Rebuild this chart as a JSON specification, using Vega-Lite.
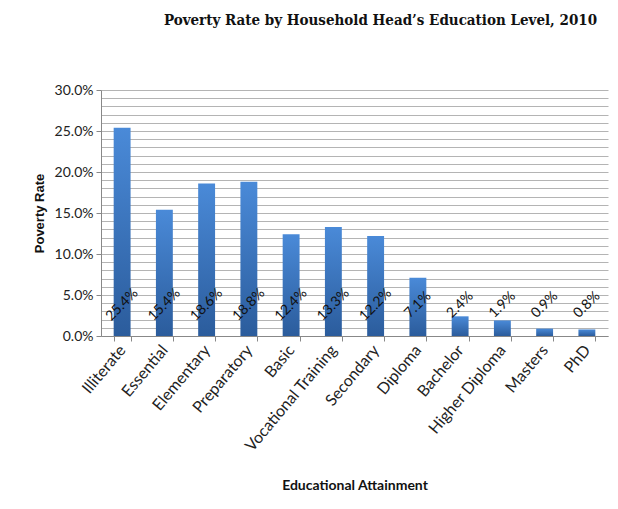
{
  "$schema": "https://vega.github.io/schema/vega-lite/v6.json",
  "width": 507,
  "height": 246,
  "autosize": "none",
  "padding": {"left": 101, "top": 90, "right": 10, "bottom": 173},
  "background": "white",
  "title": {
    "text": "Poverty Rate by Household Head’s Education Level, 2010",
    "font": "DejaVu Serif Condensed",
    "fontSize": 15,
    "fontWeight": "bold",
    "color": "#111111",
    "anchor": "middle",
    "dx": 26,
    "offset": 55
  },
  "data": {
    "values": [
      {"level": "Illiterate", "rate": 0.254},
      {"level": "Essential", "rate": 0.154},
      {"level": "Elementary", "rate": 0.186},
      {"level": "Preparatory", "rate": 0.188},
      {"level": "Basic", "rate": 0.124},
      {"level": "Vocational Training", "rate": 0.133},
      {"level": "Secondary", "rate": 0.122},
      {"level": "Diploma", "rate": 0.071},
      {"level": "Bachelor", "rate": 0.024},
      {"level": "Higher Diploma", "rate": 0.019},
      {"level": "Masters", "rate": 0.009},
      {"level": "PhD", "rate": 0.008}
    ]
  },
  "encoding": {
    "x": {
      "field": "level",
      "type": "nominal",
      "sort": null,
      "scale": {"paddingInner": 0.6, "paddingOuter": 0.3},
      "axis": {
        "title": "Educational Attainment",
        "titleFont": "Lato",
        "titleFontSize": 14,
        "titleFontWeight": "bold",
        "titleColor": "#111111",
        "titlePadding": 24,
        "labelAngle": -50,
        "labelAlign": "right",
        "labelBaseline": "middle",
        "labelFont": "Lato",
        "labelFontSize": 16,
        "labelColor": "#222222",
        "labelPadding": 6,
        "labelOverlap": false,
        "tickBand": "extent",
        "ticks": true,
        "tickSize": 5,
        "tickColor": "#888888",
        "domainColor": "#888888",
        "grid": false
      }
    }
  },
  "layer": [
    {
      "mark": {
        "type": "bar",
        "color": {
          "gradient": "linear",
          "x1": 0, "y1": 0, "x2": 0, "y2": 1,
          "stops": [
            {"offset": 0, "color": "#4a8ad8"},
            {"offset": 1, "color": "#2b5c9c"}
          ]
        }
      },
      "encoding": {
        "y": {
          "field": "rate",
          "type": "quantitative",
          "scale": {"domain": [0, 0.3], "nice": false},
          "axis": {
            "title": "Poverty Rate",
            "titleFont": "Liberation Sans",
            "titleFontSize": 13,
            "titleFontWeight": "bold",
            "titleColor": "#111111",
            "titlePadding": 8,
            "values": [0, 0.01, 0.02, 0.03, 0.04, 0.05, 0.06, 0.07, 0.08, 0.09, 0.1, 0.11, 0.12, 0.13, 0.14, 0.15, 0.16, 0.17, 0.18, 0.19, 0.2, 0.21, 0.22, 0.23, 0.24, 0.25, 0.26, 0.27, 0.28, 0.29, 0.3],
            "tickCount": 40,
            "labelExpr": "round(datum.value*100) % 5 === 0 ? format(datum.value, '.1%') : ''",
            "labelOverlap": false,
            "labelFont": "Lato",
            "labelFontSize": 14,
            "labelColor": "#222222",
            "labelPadding": 3,
            "tickSize": 5,
            "tickColor": "#888888",
            "tickOpacity": {"condition": {"test": "round(datum.value*100) % 5 === 0", "value": 1}, "value": 0},
            "domainColor": "#888888",
            "grid": true,
            "gridColor": "#b4b4b4",
            "gridWidth": 1
          }
        }
      }
    },
    {
      "mark": {
        "type": "text",
        "angle": 315,
        "align": "center",
        "baseline": "middle",
        "font": "Lato",
        "fontSize": 14,
        "color": "#111111"
      },
      "encoding": {
        "y": {"datum": 0.038, "type": "quantitative"},
        "text": {"field": "rate", "type": "quantitative", "format": ".1%"}
      }
    }
  ],
  "config": {
    "view": {"stroke": null}
  }
}
